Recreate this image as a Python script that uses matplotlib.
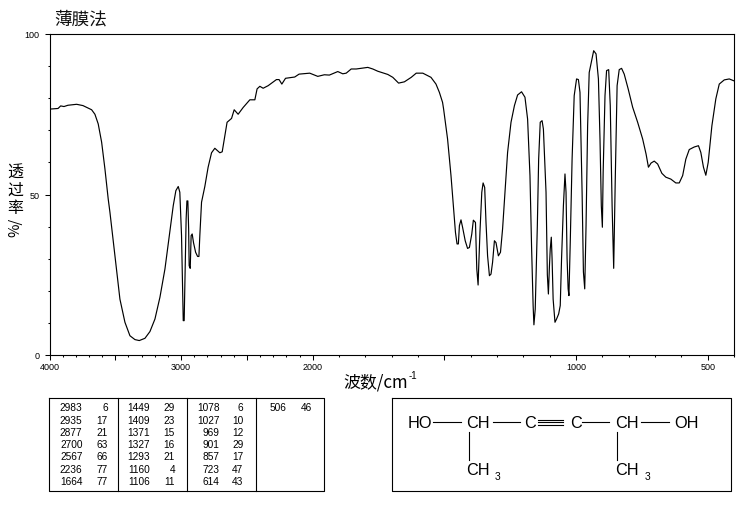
import numpy as np
import matplotlib
matplotlib.use('Agg')
import matplotlib.pyplot as plt

cjk = ['Noto Sans CJK SC', 'DejaVu Sans']
plt.rcParams['font.family'] = ['Liberation Sans', 'DejaVu Sans']

# wavenumber / transmittance
wavenumber = [4000, 3935, 3915, 3890, 3860, 3794, 3746, 3680, 3655, 3630, 3604, 3579, 3554, 3541, 3503,
              3465, 3427, 3389, 3351, 3318, 3275, 3237, 3199, 3161, 3123, 3085, 3060, 3040, 3022, 3010,
              2997, 2989, 2984, 2977, 2969, 2962, 2956, 2949, 2943, 2939, 2931, 2924, 2916, 2906, 2890,
              2875, 2865, 2858, 2845, 2820, 2795, 2769, 2744, 2706, 2688, 2668, 2651, 2617, 2597, 2567,
              2529, 2478, 2440, 2423, 2402, 2377, 2339, 2276, 2256, 2235, 2207, 2137, 2104, 2023, 1981,
              1956, 1937, 1905, 1886, 1873, 1854, 1835, 1791, 1772, 1753, 1715, 1696, 1674, 1652, 1626,
              1607, 1582, 1551, 1532, 1519, 1507, 1503, 1488, 1475, 1466, 1458, 1452, 1447,
              1443, 1437, 1431, 1421, 1412, 1405, 1396, 1390, 1382, 1377, 1372, 1370, 1365, 1358, 1353,
              1347, 1342, 1336, 1329, 1323, 1317, 1310, 1304, 1295, 1287, 1279, 1270, 1260, 1247, 1234,
              1222, 1207, 1194, 1184, 1175, 1169, 1163, 1160, 1155, 1147, 1142, 1136, 1129, 1124, 1114,
              1109, 1105, 1101, 1098, 1094, 1091, 1087, 1080, 1074, 1066, 1060, 1055, 1048, 1042, 1038,
              1034, 1030, 1027, 1022, 1015, 1007, 998, 991, 985, 977, 972, 967, 962, 956, 950,
              933, 924, 915, 909, 904, 900, 897, 890, 884, 876, 870, 863, 857, 851, 844,
              836, 827, 817, 802, 785, 766, 747, 734, 725, 715, 703, 690, 674, 659, 640,
              621, 608, 595, 583, 570, 551, 535, 526, 516, 507, 498, 484, 469, 456, 437,
              418, 400]
transmittance = [76.6, 76.8, 77.6, 77.4, 77.8, 78.1, 77.7, 76.4, 75, 72, 66.3, 58, 48.6, 44.5, 31,
                 17.4, 10.2, 6, 4.8, 4.5, 5.2, 7.3, 11.2, 18, 26.8, 38.7, 46.5, 51.2, 52.5, 50.7,
                 37.2, 21.6, 10.7, 10.7, 26.8, 42.4, 48, 48, 39.3, 27.8, 27, 37.2, 37.7, 35, 32,
                 30.7, 30.7, 37.2, 47.6, 52.5, 58.5, 63, 64.4, 63, 63.3, 68.3, 72.5, 73.7, 76.4, 75,
                 77.1, 79.5, 79.5, 82.9, 83.7, 83.1, 83.9, 85.8, 85.8, 84.4, 86.2, 86.6, 87.5, 87.8, 86.8,
                 87.3, 87.2, 88.3, 87.6, 87.8, 89.1, 89.1, 89.6, 89.1, 88.4, 87.4, 86.5, 84.7, 85.1, 86.5,
                 87.8, 87.8, 86.5, 84.4, 81.8, 78.7, 76.6, 67.3, 55.9, 46.5, 38.2, 34.6, 34.6,
                 40.3, 42.1, 39.8, 35.6, 33.2, 33.5, 37.7, 42, 41.3, 26.8, 21.8, 26.8, 38.2, 50.7, 53.6,
                 52.2, 41.3, 30.9, 24.7, 25.2, 28.9, 35.6, 35, 30.9, 32, 39.3, 50.7, 63.1, 72.5, 77.7,
                 81, 82, 80.3, 73.5, 55.9, 34, 15.4, 9.4, 14.3, 40.3, 61, 72.5, 73, 70.4, 50.7,
                 25, 19, 27.8, 33, 36.7, 30, 17.4, 10.2, 11.2, 12.8, 15.4, 30, 46.5, 56.4, 50.7,
                 30, 20.6, 18.5, 35, 61, 80.8, 86, 85.8, 81.8, 50.7, 25.9, 20.6, 40.3, 71.4, 88,
                 94.8, 93.8, 86, 67.3, 46.5, 39.8, 56.9, 80.8, 88.6, 88.9, 77.7, 46.5, 27, 54.8, 83.9,
                 88.9, 89.3, 87.5, 82.9, 77.2, 72.5, 67.3, 62.6, 58.5, 59.8, 60.4, 59.5, 56.6, 55.4, 54.8,
                 53.6, 53.6, 55.9, 61, 64, 64.8, 65.2, 63.1, 58.5, 56, 60, 71.4, 79.8, 84.4, 85.7,
                 86, 85.4]

x_major = [4000, 3500, 3000, 2500, 2000, 1500, 1000, 500]
x_labels = ['4000', '', '3000', '', '2000', '', '1000', '500']
x_minor = list(range(400, 4000, 100))
y_major = [0, 50, 100]
y_minor = [10, 20, 30, 40, 60, 70, 80, 90]

peak_wn = [[2983, 2935, 2877, 2700, 2567, 2236, 1664],
           [1449, 1409, 1371, 1327, 1293, 1160, 1106],
           [1078, 1027, 969, 901, 857, 723, 614],
           [506]]
peak_t = [[6, 17, 21, 63, 66, 77, 77],
          [29, 23, 15, 16, 21, 4, 11],
          [6, 10, 12, 29, 17, 47, 43],
          [46]]


# the chart has 2x more room per cm-1 below 2000
def fwd(x):
    return np.interp(x, [400, 2000, 4000], [0, 3.2, 5.2])


def inv(x):
    return np.interp(x, [0, 3.2, 5.2], [400, 2000, 4000])


W, H = 738, 510
fig = plt.figure(figsize=(W / 100, H / 100), dpi=100)

ax = fig.add_axes([49.5 / W, 1 - 356 / H, 684.5 / W, 321 / H])
ax.set_xscale('function', functions=(fwd, inv))
ax.plot(wavenumber, transmittance, color='k', lw=0.85)
ax.set_xlim(4000, 400)
ax.set_ylim(0, 100)
ax.set_xticks(x_major)
ax.set_xticklabels(x_labels)
ax.set_xticks(x_minor, minor=True)
ax.set_yticks(y_major)
ax.set_yticks(y_minor, minor=True)
ax.tick_params(which='major', length=3.6, width=0.75, labelsize=6.5)
ax.tick_params(which='minor', length=1.6, width=0.75)
ax.tick_params(axis='x', which='major', pad=1.8)
ax.tick_params(axis='y', which='major', pad=3.6)
for s in ax.spines.values():
    s.set_linewidth(0.8)

# everything below the plot goes on a pixel overlay
ov = fig.add_axes([0, 0, 1, 1])
ov.set_xlim(0, W)
ov.set_ylim(H, 0)
ov.axis('off')
ov.patch.set_alpha(0)

ov.text(54, 20, '薄膜法', family=cjk, fontsize=12.7, va='center', ha='left', color='#111111')
ov.text(343, 383, '波数/cm', family=cjk, fontsize=12.2, va='center', ha='left')
ov.text(409, 376, '-1', fontsize=7, va='center', ha='left')
for ch, yy in zip('透过率', [173, 190.5, 208.5]):
    ov.text(15, yy, ch, family=cjk, fontsize=11.5, va='center', ha='center')
ov.text(15, 227, '%/', family=cjk, fontsize=10.5, va='center', ha='center', rotation=90)

# peak table
ov.plot([49.3, 323.5, 323.5, 49.3, 49.3], [399.3, 399.3, 491.7, 491.7, 399.3], color='k', lw=0.8)
for xx in [118.3, 186.7, 255.7]:
    ov.plot([xx, xx], [399.3, 491.7], color='k', lw=0.8)
col_wn = [82.5, 150, 219.5, 286]
col_t = [107.7, 175, 243.5, 311.7]
for c in range(4):
    for r in range(len(peak_wn[c])):
        yy = 408.3 + r * 12.3
        ov.text(col_wn[c], yy, str(peak_wn[c][r]), fontsize=7.3, ha='right', va='center')
        ov.text(col_t[c], yy, str(peak_t[c][r]), fontsize=7.3, ha='right', va='center')

# structure box
ov.plot([392.3, 730.7, 730.7, 392.3, 392.3], [399.3, 399.3, 491.7, 491.7, 399.3], color='k', lw=0.8)
for txt, xx in [('HO', 407.7), ('CH', 465.7), ('C', 524), ('C', 570), ('CH', 615), ('OH', 674.3)]:
    ov.text(xx, 423.3, txt, fontsize=11.7, ha='left', va='center')
for xx in [465.7, 615]:
    ov.text(xx, 471, 'CH', fontsize=11.7, ha='left', va='center')
    ov.text(xx + 29.3, 476.7, '3', fontsize=7.5, ha='left', va='center')
for x0, x1 in [(432.7, 461), (493.3, 520), (581.7, 609), (641, 669)]:
    ov.plot([x0, x1], [423.3, 423.3], color='k', lw=0.8)
for yy in [420.7, 423.3, 426]:
    ov.plot([538, 563.3], [yy, yy], color='k', lw=0.8)
for xx in [469.3, 616.7]:
    ov.plot([xx, xx], [433.3, 461], color='k', lw=0.8)

fig.savefig('out.png', dpi=100)
